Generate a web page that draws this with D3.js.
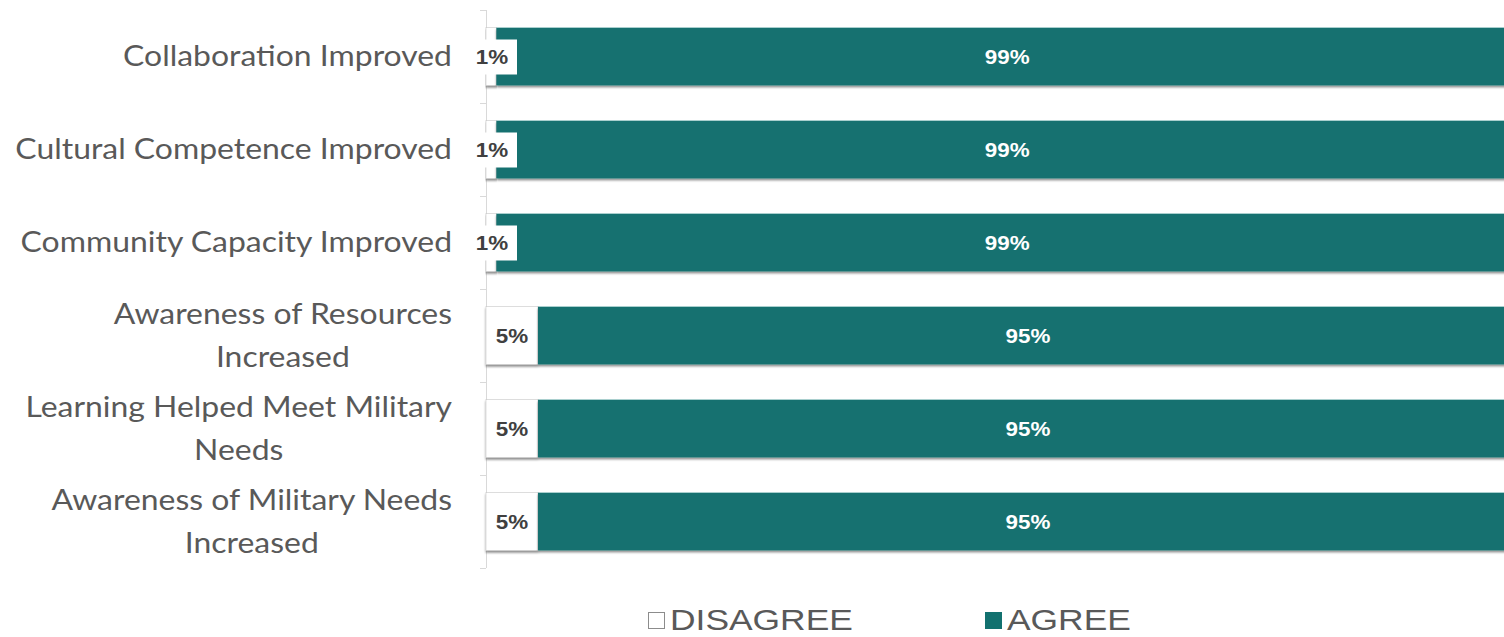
<!DOCTYPE html>
<head>
    <title>Agree / Disagree</title>
    <script src="https://cdn.jsdelivr.net/npm/d3@7"></script>
    <style>
        body { margin: 0; background: #fff; }
    </style>
</head>
<body>
<div id="container"></div>
<script>

// Données
const categories = [
    "Collaboration Improved",
    "Cultural Competence Improved",
    "Community Capacity Improved",
    "Awareness of Resources|Increased",
    "Learning Helped Meet Military|Needs",
    "Awareness of Military Needs|Increased"
];
const disagree = [1, 1, 1, 5, 5, 5];
const agree = [99, 99, 99, 95, 95, 95];
const seriesNames = ["DISAGREE", "AGREE"];

const width = 1504;
const height = 637;
const teal = "#12716f";
const grey = "#595959";
const stretch = 1.12; // le graphique d'origine est un peu étiré horizontalement

const svg = d3.select("#container")
              .append("svg")
              .attr("width", width)
              .attr("height", height);

// Ombre portée des barres
const defs = svg.append("defs");
const filt = defs.append("filter")
                 .attr("id", "shadow")
                 .attr("x", "-5%").attr("y", "-20%")
                 .attr("width", "110%").attr("height", "150%");
filt.append("feDropShadow")
    .attr("dx", 0).attr("dy", 2)
    .attr("stdDeviation", 1.2)
    .attr("flood-color", "#000")
    .attr("flood-opacity", 0.45);

// Texte étiré horizontalement, positionné en (px, py)
function stretchedText(parent, px, py, sx = stretch) {
    return parent.append("g")
                 .attr("transform", `translate(${px},${py}) scale(${sx},1)`)
                 .append("text");
}

// Échelles
const x = d3.scaleLinear().domain([0, 100]).range([486, 1526]);
const y = d3.scaleBand().domain(categories).range([10, 568])
            .paddingInner(0.38).paddingOuter(0.19);

const data = categories.map((c, i) => ({ cat: c, dis: disagree[i], agr: agree[i] }));

// Axe vertical + graduations
svg.append("line")
   .attr("x1", 486.5).attr("x2", 486.5)
   .attr("y1", 10).attr("y2", 568)
   .attr("stroke", "#d9d9d9");
const step = y.step();
d3.range(categories.length + 1).forEach(i => {
    const yy = Math.round(10 + i * step) + 0.5;
    svg.append("line")
       .attr("x1", 480).attr("x2", 486)
       .attr("y1", yy).attr("y2", yy)
       .attr("stroke", "#d9d9d9");
});

// Barres
const rows = svg.selectAll(".row")
                .data(data)
                .enter().append("g")
                .attr("class", "row");

rows.append("rect")
    .attr("x", x(0))
    .attr("y", d => y(d.cat))
    .attr("width", d => x(d.dis) - x(0))
    .attr("height", y.bandwidth())
    .attr("fill", "#fff")
    .attr("stroke", "#c8c8c8")
    .attr("stroke-width", 0.6)
    .attr("filter", "url(#shadow)");

rows.append("rect")
    .attr("x", d => x(d.dis))
    .attr("y", d => y(d.cat))
    .attr("width", d => x(100) - x(d.dis))
    .attr("height", y.bandwidth())
    .attr("fill", teal)
    .attr("filter", "url(#shadow)");

// Étiquettes de valeurs (boîte blanche si le segment est trop petit)
rows.each(function(d) {
    const g = d3.select(this);
    const cy = y(d.cat) + y.bandwidth() / 2;
    const cx = d.dis < 3 ? 492 : (x(0) + x(d.dis)) / 2;
    if (d.dis < 3) {
        g.append("rect")
         .attr("x", 470).attr("y", cy - 17)
         .attr("width", 47).attr("height", 35)
         .attr("fill", "#fff");
    }
    stretchedText(g, cx, cy)
     .attr("dy", "0.35em")
     .attr("text-anchor", "middle")
     .attr("font-family", "Liberation Sans, Arial, sans-serif")
     .attr("font-weight", "bold")
     .attr("font-size", 20)
     .attr("fill", "#404040")
     .text(d.dis + "%");
    stretchedText(g, (x(d.dis) + x(100)) / 2 - 4, cy)
     .attr("dy", "0.35em")
     .attr("text-anchor", "middle")
     .attr("font-family", "Liberation Sans, Arial, sans-serif")
     .attr("font-weight", "bold")
     .attr("font-size", 20)
     .attr("fill", "#fff")
     .text(d.agr + "%");
});

// Libellés des catégories (multi-lignes centrées, bloc aligné à droite)
categories.forEach(c => {
    const lines = c.split("|");
    const cy = y(c) + y.bandwidth() / 2;
    const t = stretchedText(svg, 452, cy)
                 .attr("font-family", "Lato, 'Open Sans', sans-serif")
                 .attr("font-size", 28.5)
                 .attr("fill", grey)
                 .attr("text-anchor", "middle");
    const lh = 43;
    lines.forEach((l, i) => {
        t.append("tspan")
         .attr("y", (i - (lines.length - 1) / 2) * lh)
         .attr("dy", "0.35em")
         .text(l);
    });
    let maxW = 0;
    t.selectAll("tspan").each(function() {
        maxW = Math.max(maxW, this.getComputedTextLength());
    });
    t.selectAll("tspan").attr("x", -maxW / 2);
});

// Légende
const legend = svg.append("g");
const legX = [648, 985];
seriesNames.forEach((s, i) => {
    legend.append("rect")
          .attr("x", legX[i] + 0.5).attr("y", 612.5)
          .attr("width", 16).attr("height", 16)
          .attr("fill", i === 0 ? "#fff" : teal)
          .attr("stroke", i === 0 ? "#8c8c8c" : teal);
    stretchedText(legend, legX[i] + 22, 630, 1.18)
          .attr("font-family", "Liberation Sans, Arial, sans-serif")
          .attr("font-size", 30)
          .attr("fill", grey)
          .text(s);
});

</script>
</body>
